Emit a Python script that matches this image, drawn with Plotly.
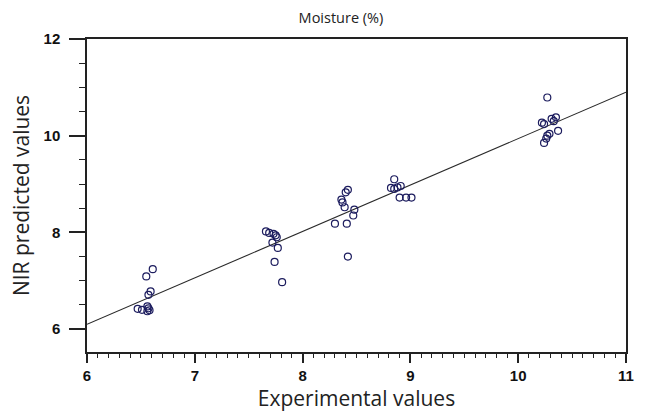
import plotly.graph_objects as go

# Experimental (x) vs NIR predicted (y) moisture values
exp_values = [
    6.61, 6.55, 6.59, 6.57, 6.47, 6.51, 6.56, 6.57, 6.56, 6.58,
    7.66, 7.69, 7.73, 7.75, 7.76, 7.72, 7.77, 7.74, 7.81,
    8.42, 8.40, 8.36, 8.37, 8.39, 8.48, 8.47, 8.30, 8.41, 8.42,
    8.85, 8.82, 8.85, 8.88, 8.91, 8.90, 8.96, 9.01,
    10.27, 10.22, 10.24, 10.31, 10.35, 10.33, 10.29, 10.37, 10.26, 10.24, 10.27,
]
nir_values = [
    7.24, 7.09, 6.78, 6.71, 6.42, 6.40, 6.47, 6.43, 6.37, 6.39,
    8.02, 7.99, 7.97, 7.94, 7.90, 7.79, 7.68, 7.39, 6.97,
    8.88, 8.83, 8.68, 8.62, 8.52, 8.47, 8.35, 8.18, 8.18, 7.50,
    9.10, 8.92, 8.90, 8.93, 8.96, 8.72, 8.72, 8.72,
    10.79, 10.27, 10.24, 10.35, 10.38, 10.30, 10.04, 10.10, 9.94, 9.85, 10.00,
]

# Regression line end points
fit_x = [6.0, 11.0]
fit_y = [6.10, 10.90]

fig = go.Figure()
fig.add_trace(go.Scatter(
    x=fit_x, y=fit_y, mode="lines",
    line=dict(color="#2a2a2a", width=1.1),
    showlegend=False, hoverinfo="skip",
))
fig.add_trace(go.Scatter(
    x=exp_values, y=nir_values, mode="markers",
    marker=dict(symbol="circle-open", size=7, color="#1c1c5e",
                line=dict(width=1.2, color="#1c1c5e")),
    showlegend=False,
))

axis_font = dict(family="Liberation Sans, Arial", size=15, color="#111111", weight="bold")

fig.update_layout(
    width=646, height=414,
    margin=dict(l=87, r=19, t=39, b=60),
    paper_bgcolor="white", plot_bgcolor="white",
    title=dict(text="Moisture (%)", x=341 / 646, xref="container",
               y=1 - 18 / 414, yref="container", xanchor="center", yanchor="middle",
               font=dict(family="Open Sans", size=14.5, color="#222222")),
    xaxis=dict(
        range=[6, 11], tickmode="linear", tick0=6, dtick=1,
        showgrid=False, zeroline=False,
        showline=True, linecolor="#222222", linewidth=1.5, mirror=True,
        ticks="outside", ticklen=9, tickwidth=1.5, tickcolor="#222222",
        minor=dict(tickmode="linear", tick0=6, dtick=0.1, ticks="outside", ticklen=4,
                   tickwidth=1.2, tickcolor="#222222", showgrid=False),
        tickfont=axis_font,
        title=dict(text="Experimental values", standoff=4,
                   font=dict(family="Open Sans", size=21, color="#222222")),
    ),
    yaxis=dict(
        range=[5.527, 12], tickmode="linear", tick0=6, dtick=2,
        showgrid=False, zeroline=False,
        showline=True, linecolor="#222222", linewidth=1.5, mirror=True,
        ticks="outside", ticklen=16, tickwidth=1.5, tickcolor="#222222",
        minor=dict(tickmode="linear", tick0=6, dtick=0.5, ticks="outside", ticklen=6,
                   tickwidth=1.2, tickcolor="#222222", showgrid=False),
        tickfont=axis_font, ticklabelstandoff=6,
        title=dict(text="NIR predicted values", standoff=8,
                   font=dict(family="Open Sans", size=21, color="#222222")),
    ),
)

fig.write_html("out.html")
